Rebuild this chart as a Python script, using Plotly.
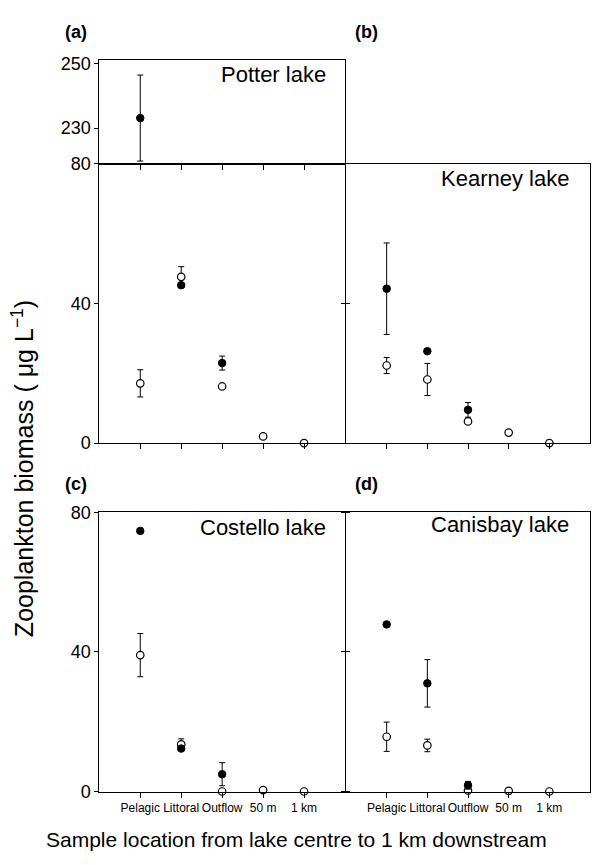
import plotly.graph_objects as go

# ---------------- data ----------------
locations = ["Pelagic", "Littoral", "Outflow", "50 m", "1 km"]

potter_closed = [233.1, 45.2, 22.9, None, None]
potter_closed_err = [13.3, None, 2.0, None, None]
potter_open = [17.1, 47.6, 16.2, 1.9, 0.0]
potter_open_err = [3.9, 2.9, None, None, None]

kearney_closed = [44.2, 26.3, 9.5, None, None]
kearney_closed_err = [13.1, None, 2.1, None, None]
kearney_open = [22.2, 18.2, 6.2, 3.0, 0.0]
kearney_open_err = [2.3, 4.6, None, None, None]

costello_closed = [74.7, 12.3, 4.95, None, None]
costello_closed_err = [None, None, 3.3, None, None]
costello_open = [39.1, 13.5, 0.0, 0.4, 0.0]
costello_open_err = [6.2, 1.6, None, None, None]

canisbay_closed = [47.9, 31.0, 1.8, None, None]
canisbay_closed_err = [None, 6.8, 1.1, None, None]
canisbay_open = [15.7, 13.2, 0.3, 0.2, 0.0]
canisbay_open_err = [4.2, 1.8, None, None, None]

lake_names = ["Potter lake", "Kearney lake", "Costello lake", "Canisbay lake"]
panel_labels = ["(a)", "(b)", "(c)", "(d)"]
main_ticks = [0, 40, 80]
break_ticks = [230, 250]

# ---------------- layout helpers ----------------
W, H = 592, 865
FONT = "Liberation Sans, Arial, Helvetica, sans-serif"
xs = list(range(1, len(locations) + 1))


def px_x(p):
    return p / W


def px_y(p):
    return (H - p) / H


def sel(vals, errs, keep):
    v = [a if (a is not None and keep(a)) else None for a in vals]
    e = [b if (a is not None and keep(a)) else None for a, b in zip(vals, errs)]
    return v, e


fig = go.Figure()


def add_pair(closed, closed_err, opn, opn_err, xa, ya, keep):
    ov, oe = sel(opn, opn_err, keep)
    cv, ce = sel(closed, closed_err, keep)
    fig.add_trace(go.Scatter(
        x=xs, y=ov, mode="markers", xaxis=xa, yaxis=ya, cliponaxis=False,
        marker=dict(size=7.5, color="white", line=dict(color="black", width=1.2)),
        error_y=dict(type="data", array=oe, color="black", thickness=1, width=3),
        showlegend=False))
    fig.add_trace(go.Scatter(
        x=xs, y=cv, mode="markers", xaxis=xa, yaxis=ya, cliponaxis=False,
        marker=dict(size=7.5, color="black", line=dict(color="black", width=1)),
        error_y=dict(type="data", array=ce, color="black", thickness=1, width=3),
        showlegend=False))


lim = lambda v: v <= 80
above = lambda v: v > 80

add_pair(potter_closed, potter_closed_err, potter_open, potter_open_err, "x", "y", above)
add_pair(potter_closed, potter_closed_err, potter_open, potter_open_err, "x2", "y2", lim)
add_pair(kearney_closed, kearney_closed_err, kearney_open, kearney_open_err, "x3", "y3", lim)
add_pair(costello_closed, costello_closed_err, costello_open, costello_open_err, "x4", "y4", lim)
add_pair(canisbay_closed, canisbay_closed_err, canisbay_open, canisbay_open_err, "x5", "y5", lim)

# domains (pixel based)
L_a, R_a = 99.3, 345.0
L_b, R_b = 346.0, 590.0
top_t, top_b = 50.7, 157.3
mid_t, mid_b = 157.3, 443.3
bot_t, bot_b = 514.3, 800.0

xdom_a = [px_x(L_a), px_x(R_a)]
xdom_b = [px_x(L_b), px_x(R_b)]
ydom_top = [px_y(top_b), px_y(top_t)]
ydom_mid = [px_y(mid_b), px_y(mid_t)]
ydom_bot = [px_y(bot_b), px_y(bot_t)]

tickfont = dict(family=FONT, size=18, color="black")
common_x = dict(range=[0, 6], tickvals=xs, ticktext=locations, showgrid=False,
                zeroline=False, showline=True, linecolor="black", linewidth=1,
                ticks="outside", ticklen=5, tickcolor="black", tickwidth=1,
                mirror=True, fixedrange=True)
common_y = dict(showgrid=False, zeroline=False, showline=True, linecolor="black",
                linewidth=1, ticks="outside", ticklen=4, tickcolor="black",
                tickwidth=1, tickfont=tickfont, fixedrange=True)

layout = dict(
    width=W, height=H, margin=dict(l=0, r=0, t=0, b=0),
    paper_bgcolor="white", plot_bgcolor="white", showlegend=False,
    font=dict(family=FONT, color="black"),
    xaxis=dict(domain=xdom_a, anchor="y", showticklabels=False, **common_x),
    yaxis=dict(domain=ydom_top, anchor="x", range=[219, 251.2], tickvals=break_ticks,
               mirror=True, **common_y),
    xaxis2=dict(domain=xdom_a, anchor="y2", showticklabels=False, **common_x),
    yaxis2=dict(domain=ydom_mid, anchor="x2", range=[0, 80], tickvals=main_ticks,
                mirror="ticks", **common_y),
    xaxis3=dict(domain=xdom_b, anchor="y3", showticklabels=False, **common_x),
    yaxis3=dict(domain=ydom_mid, anchor="x3", range=[0, 80], tickvals=main_ticks,
                showticklabels=False, mirror=True, **common_y),
    xaxis4=dict(domain=xdom_a, anchor="y4", showticklabels=True,
                tickfont=dict(family=FONT, size=12, color="black"), **common_x),
    yaxis4=dict(domain=ydom_bot, anchor="x4", range=[0, 80], tickvals=main_ticks,
                mirror="ticks", **common_y),
    xaxis5=dict(domain=xdom_b, anchor="y5", showticklabels=True,
                tickfont=dict(family=FONT, size=12, color="black"), **common_x),
    yaxis5=dict(domain=ydom_bot, anchor="x5", range=[0, 80], tickvals=main_ticks,
                showticklabels=False, mirror=True, **common_y),
)
fig.update_layout(**layout)

ann = []
name_pos = [(R_a - 17, 66), (R_b - 19, 172.7), (R_a - 17, 530), (R_b - 19, 527)]
for name, (xp, yp) in zip(lake_names, name_pos):
    ann.append(dict(text=name, x=px_x(xp), y=px_y(yp), xref="paper", yref="paper",
                    xanchor="right", yanchor="middle", showarrow=False,
                    font=dict(family=FONT, size=22, color="black")))
lab_pos = [(63, 22.5), (353, 22.5), (63, 485), (353, 485)]
for lab, (xp, yp) in zip(panel_labels, lab_pos):
    ann.append(dict(text="<b>" + lab + "</b>", x=px_x(xp), y=px_y(yp), xref="paper",
                    yref="paper", xanchor="left", yanchor="middle", showarrow=False,
                    font=dict(family=FONT, size=18, color="black")))
ann.append(dict(text="Sample location from lake centre to 1 km downstream",
                x=px_x(296), y=px_y(849), xref="paper", yref="paper",
                xanchor="center", yanchor="middle", showarrow=False,
                font=dict(family=FONT, size=21, color="black")))
ann.append(dict(text="Zooplankton biomass ( μg L<sup>−1</sup>)",
                x=px_x(23), y=px_y(470), xref="paper", yref="paper",
                xanchor="center", yanchor="middle", textangle=-90, showarrow=False,
                font=dict(family=FONT, size=25, color="black")))
fig.update_layout(annotations=ann)

fig.write_html("out.html")
